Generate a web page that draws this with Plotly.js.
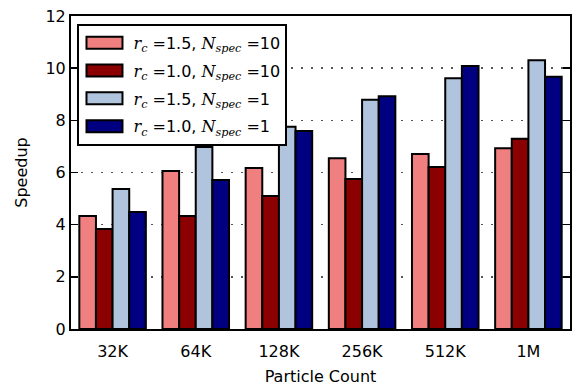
<!DOCTYPE html>
<html><head><meta charset="utf-8">
<script src="https://cdn.plot.ly/plotly-3.0.1.min.js"></script>
<style>html,body{margin:0;padding:0;background:#fff}</style>
</head><body>
<div id="chart" style="width:572px;height:386px"></div>
<script>
const categories = ["32K", "64K", "128K", "256K", "512K", "1M"];
const M = s => "<i style='font-family:DejaVu Serif'>" + s + "</i>";
const seriesNames = [
  M("r") + "<sub>" + M("c") + "</sub> =1.5, " + M("N") + "<sub>" + M("spec") + "</sub> =10",
  M("r") + "<sub>" + M("c") + "</sub> =1.0, " + M("N") + "<sub>" + M("spec") + "</sub> =10",
  M("r") + "<sub>" + M("c") + "</sub> =1.5, " + M("N") + "<sub>" + M("spec") + "</sub> =1",
  M("r") + "<sub>" + M("c") + "</sub> =1.0, " + M("N") + "<sub>" + M("spec") + "</sub> =1"
];
const rc15_n10 = [4.33, 6.06, 6.17, 6.55, 6.71, 6.93];
const rc10_n10 = [3.83, 4.33, 5.10, 5.75, 6.21, 7.29];
const rc15_n1  = [5.37, 6.98, 7.75, 8.79, 9.61, 10.30];
const rc10_n1  = [4.49, 5.71, 7.59, 8.92, 10.08, 9.67];
const colors = ["#F08080", "#8B0000", "#B0C4DE", "#000080"];
const allSeries = [rc15_n10, rc10_n10, rc15_n1, rc10_n1];

const traces = allSeries.map((vals, i) => ({
  type: "bar",
  x: categories,
  y: vals,
  name: seriesNames[i],
  legendgroup: "g" + i,
  marker: {color: colors[i], line: {color: "#000", width: 2}}
}));

const font = {family: "DejaVu Sans", size: 16, color: "#000"};
const layout = {
  width: 572, height: 386,
  margin: {l: 71, r: 2, t: 16, b: 57},
  paper_bgcolor: "#fff", plot_bgcolor: "#fff",
  font: font,
  barmode: "group", bargap: 0.2, bargroupgap: 0,
  showlegend: true,
  legend: {
    x: 0.013, y: 0.975, xanchor: "left", yanchor: "top",
    bgcolor: "#fff", bordercolor: "#000", borderwidth: 2,
    font: {family: "DejaVu Sans", size: 16, color: "#000"},
    itemwidth: 44, tracegroupgap: 4, traceorder: "grouped"
  },
  xaxis: {
    type: "category", range: [-0.5, 5.5],
    showline: true, linecolor: "#000", linewidth: 2, mirror: true,
    ticks: "", showgrid: false, zeroline: false,
    tickfont: font, ticklabelstandoff: 7,
    title: {text: "Particle Count", font: font, standoff: 11}
  },
  yaxis: {
    range: [0, 12], dtick: 2, tick0: 0,
    showline: true, linecolor: "#000", linewidth: 2, mirror: "ticks",
    ticks: "inside", ticklen: 7, tickwidth: 1.5, tickcolor: "#000",
    showgrid: true, gridcolor: "#555", griddash: "2px,8px", gridwidth: 1.5,
    zeroline: false, tickfont: font,
    title: {text: "Speedup", font: font, standoff: 14}
  }
};

Plotly.newPlot("chart", traces, layout, {displayModeBar: false, staticPlot: true}).then(gd => {
  document.querySelectorAll(".legend .legendpoints path").forEach(p => {
    p.setAttribute("d", "M16,6H-20V-6H16Z");
  });
});
</script>
</body></html>
